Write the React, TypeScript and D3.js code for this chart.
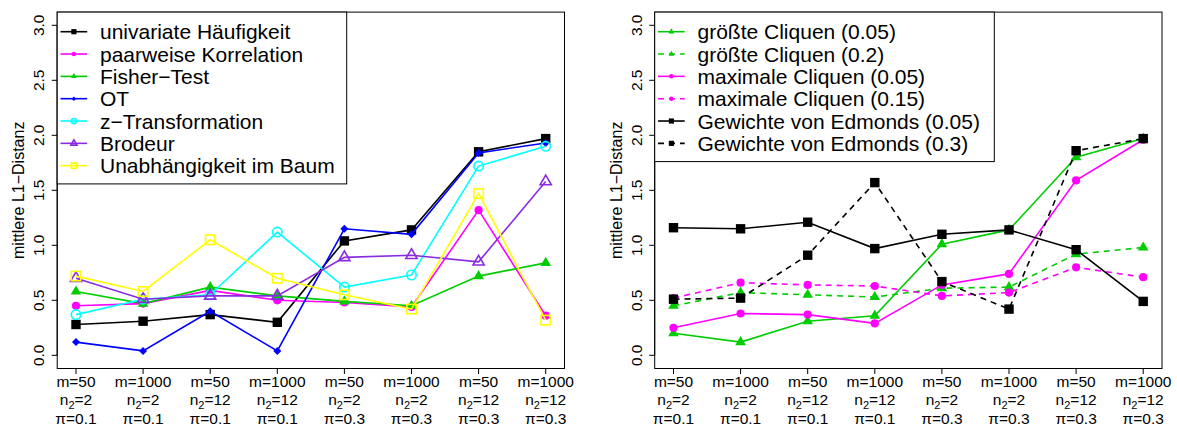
import React from "react";
import * as d3 from "d3";

// Simulation settings on the x axis
const mValues = [50, 1000, 50, 1000, 50, 1000, 50, 1000];
const n2Values = [2, 2, 12, 12, 2, 2, 12, 12];
const piValues = ["0.1", "0.1", "0.1", "0.1", "0.3", "0.3", "0.3", "0.3"];
const yTicks = [0, 0.5, 1, 1.5, 2, 2.5, 3];

// Left panel: dependence measures
const univariateHaeufigkeit = [0.28, 0.31, 0.37, 0.30, 1.04, 1.14, 1.85, 1.97];
const paarweiseKorrelation = [0.45, 0.47, 0.59, 0.50, 0.48, 0.44, 1.32, 0.36];
const fisherTest = [0.58, 0.47, 0.62, 0.54, 0.49, 0.45, 0.72, 0.84];
const otValues = [0.12, 0.04, 0.40, 0.04, 1.15, 1.10, 1.84, 1.93];
const zTransformation = [0.37, 0.51, 0.55, 1.12, 0.62, 0.73, 1.72, 1.90];
const brodeur = [0.70, 0.51, 0.54, 0.54, 0.89, 0.91, 0.85, 1.58];
const unabhaengigkeitBaum = [0.72, 0.58, 1.05, 0.70, 0.55, 0.42, 1.47, 0.32];

// Right panel: clique and Edmonds based methods
const groessteCliquen005 = [0.20, 0.12, 0.31, 0.36, 1.01, 1.14, 1.80, 1.97];
const groessteCliquen02 = [0.45, 0.57, 0.55, 0.53, 0.61, 0.62, 0.92, 0.98];
const maximaleCliquen005 = [0.25, 0.38, 0.37, 0.29, 0.64, 0.74, 1.59, 1.96];
const maximaleCliquen015 = [0.52, 0.66, 0.64, 0.63, 0.54, 0.57, 0.80, 0.71];
const edmonds005 = [1.16, 1.15, 1.21, 0.97, 1.10, 1.14, 0.96, 0.49];
const edmonds03 = [0.51, 0.52, 0.91, 1.57, 0.67, 0.42, 1.86, 1.97];

type Shape = "sq" | "circ" | "tri" | "dia" | "ocirc" | "otri" | "osq";
type Series = { name: string; values: number[]; color: string; shape: Shape; dashed?: boolean };

const leftSeries: Series[] = [
  { name: "univariate Häufigkeit", values: univariateHaeufigkeit, color: "#000000", shape: "sq" },
  { name: "paarweise Korrelation", values: paarweiseKorrelation, color: "#FF00FF", shape: "circ" },
  { name: "Fisher\u2212Test", values: fisherTest, color: "#00CD00", shape: "tri" },
  { name: "OT", values: otValues, color: "#0000FF", shape: "dia" },
  { name: "z\u2212Transformation", values: zTransformation, color: "#00FFFF", shape: "ocirc" },
  { name: "Brodeur", values: brodeur, color: "#8A2BE2", shape: "otri" },
  { name: "Unabhängigkeit im Baum", values: unabhaengigkeitBaum, color: "#FFFF00", shape: "osq" },
];

const rightSeries: Series[] = [
  { name: "größte Cliquen (0.05)", values: groessteCliquen005, color: "#00CD00", shape: "tri" },
  { name: "größte Cliquen (0.2)", values: groessteCliquen02, color: "#00CD00", shape: "tri", dashed: true },
  { name: "maximale Cliquen (0.05)", values: maximaleCliquen005, color: "#FF00FF", shape: "circ" },
  { name: "maximale Cliquen (0.15)", values: maximaleCliquen015, color: "#FF00FF", shape: "circ", dashed: true },
  { name: "Gewichte von Edmonds (0.05)", values: edmonds005, color: "#000000", shape: "sq" },
  { name: "Gewichte von Edmonds (0.3)", values: edmonds03, color: "#000000", shape: "sq", dashed: true },
];

const FONT = "'Liberation Sans', Arial, Helvetica, sans-serif";
const BOX_W = 507.3;
const BOX_TOP = 12.1;
const BOX_BOTTOM = 368.5;
const DASH = "6,5";
const AXIS_FONT = 15.5;

function Marker({ shape, x, y, color, s = 1 }: { shape: Shape; x: number; y: number; color: string; s?: number }) {
  switch (shape) {
    case "sq": {
      const h = 4.7 * s;
      return <rect x={x - h} y={y - h} width={2 * h} height={2 * h} fill={color} />;
    }
    case "circ":
      return <circle cx={x} cy={y} r={4.1 * s} fill={color} />;
    case "tri": {
      const xc = 5.3 * s;
      const r = (xc / 1.347) * 1.555;
      return <polygon points={`${x},${y - r} ${x + xc},${y + r / 2} ${x - xc},${y + r / 2}`} fill={color} />;
    }
    case "dia": {
      const d = 4.0 * s;
      return <polygon points={`${x},${y - d} ${x + d},${y} ${x},${y + d} ${x - d},${y}`} fill={color} />;
    }
    case "ocirc":
      return <circle cx={x} cy={y} r={4.7 * s} fill="none" stroke={color} strokeWidth={1.6} />;
    case "otri": {
      const xc = 5.6 * s;
      const r = (xc / 1.347) * 1.555;
      return (
        <polygon
          points={`${x},${y - r} ${x + xc},${y + r / 2} ${x - xc},${y + r / 2}`}
          fill="none"
          stroke={color}
          strokeWidth={1.6}
        />
      );
    }
    case "osq": {
      const h = 4.7 * s;
      return <rect x={x - h} y={y - h} width={2 * h} height={2 * h} fill="none" stroke={color} strokeWidth={1.6} />;
    }
  }
  return null;
}

function Panel({ x0, series, legendWidth }: { x0: number; series: Series[]; legendWidth: number }) {
  const x = d3.scaleLinear().domain([0.72, 8.28]).range([x0, x0 + BOX_W]);
  const y = d3.scaleLinear().domain([-0.12, 3.12]).range([BOX_BOTTOM, BOX_TOP]);
  const line = d3
    .line<number>()
    .x((_, i) => x(i + 1))
    .y((v) => y(v));

  const idx = mValues.map((_, i) => i + 1);
  const rowH = 22.33;
  const legTop = BOX_TOP;
  const legH = series.length * rowH + 15.5;

  return (
    <g fontFamily={FONT}>
      {/* y axis */}
      <line x1={x0} x2={x0} y1={y(0)} y2={y(3)} stroke="#000" strokeWidth={1} />
      {yTicks.map((t) => (
        <g key={t}>
          <line x1={x0} x2={x0 - 5.5} y1={y(t)} y2={y(t)} stroke="#000" strokeWidth={1} />
          <text
            transform={`translate(${x0 - 13},${y(t)}) rotate(-90)`}
            textAnchor="middle"
            fontSize={AXIS_FONT}
            fill="#000"
          >
            {t.toFixed(1)}
          </text>
        </g>
      ))}
      <text
        transform={`translate(${x0 - 33},${(BOX_TOP + BOX_BOTTOM) / 2}) rotate(-90)`}
        textAnchor="middle"
        fontSize={16}
        fill="#000"
      >
        mittlere L1{"\u2212"}Distanz
      </text>

      {/* x axis */}
      <line x1={x(1)} x2={x(8)} y1={BOX_BOTTOM} y2={BOX_BOTTOM} stroke="#000" strokeWidth={1} />
      {idx.map((t, i) => (
        <g key={t}>
          <line x1={x(t)} x2={x(t)} y1={BOX_BOTTOM} y2={BOX_BOTTOM + 5.5} stroke="#000" strokeWidth={1} />
          <text x={x(t)} y={386.8} textAnchor="middle" fontSize={AXIS_FONT}>
            m={mValues[i]}
          </text>
          <text x={x(t)} y={405.2} textAnchor="middle" fontSize={AXIS_FONT}>
            n
            <tspan fontSize={11} dy={3.5}>
              2
            </tspan>
            <tspan dy={-3.5}>={n2Values[i]}</tspan>
          </text>
          <text x={x(t)} y={423.6} textAnchor="middle" fontSize={AXIS_FONT}>
            {"\u03c0"}={piValues[i]}
          </text>
        </g>
      ))}

      {/* data */}
      {series.map((s) => (
        <g key={s.name}>
          <path
            d={line(s.values) || ""}
            fill="none"
            stroke={s.color}
            strokeWidth={1.6}
            strokeDasharray={s.dashed ? DASH : undefined}
          />
          {s.values.map((v, i) => (
            <Marker key={i} shape={s.shape} x={x(i + 1)} y={y(v)} color={s.color} />
          ))}
        </g>
      ))}

      {/* plot box */}
      <rect x={x0} y={BOX_TOP} width={BOX_W} height={BOX_BOTTOM - BOX_TOP} fill="none" stroke="#000" strokeWidth={1} />

      {/* legend */}
      <rect x={x0} y={legTop} width={legendWidth} height={legH} fill="#fff" stroke="#000" strokeWidth={1} />
      {series.map((s, i) => {
        const cy = legTop + 19.6 + i * rowH;
        return (
          <g key={s.name}>
            <line
              x1={x0 + 3.3}
              x2={x0 + 30}
              y1={cy}
              y2={cy}
              stroke={s.color}
              strokeWidth={1.6}
              strokeDasharray={s.dashed ? DASH : undefined}
            />
            <Marker shape={s.shape} x={x0 + 16.7} y={cy} color={s.color} s={0.55} />
            <text x={x0 + 42.8} y={cy + 7.5} fontSize={21} fill="#000">
              {s.name}
            </text>
          </g>
        );
      })}
    </g>
  );
}

export default function App() {
  return (
    <svg
      width={1177}
      height={427}
      viewBox="0 0 1177 427"
      style={{ position: "absolute", left: 0, top: 0, background: "#fff" }}
    >
      <rect width={1177} height={427} fill="#fff" />
      <Panel x0={57.2} series={leftSeries} legendWidth={289.5} />
      <Panel x0={654.7} series={rightSeries} legendWidth={339.6} />
    </svg>
  );
}
